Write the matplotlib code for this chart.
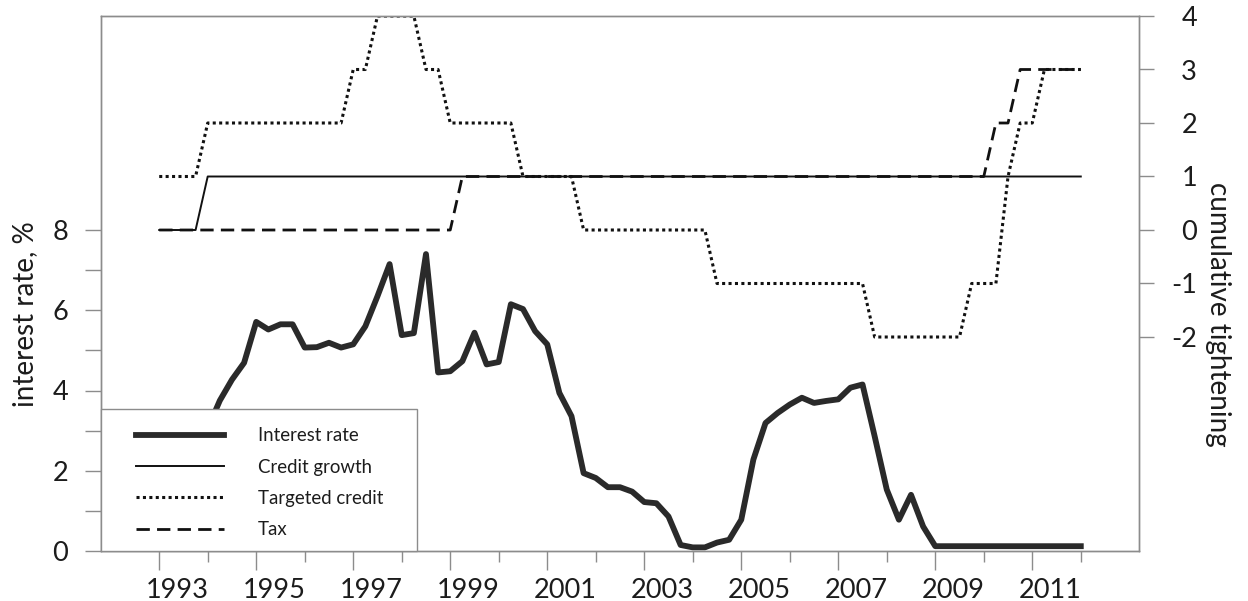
import numpy as np
import matplotlib
matplotlib.use('Agg')
import matplotlib.pyplot as plt
from matplotlib.patches import Rectangle
from matplotlib.transforms import ScaledTranslation

plt.rcParams['font.family'] = ['Lato', 'DejaVu Sans']

# quarterly observations, 1993Q1 .. 2012Q1
quarters = 1993 + np.arange(77) / 4.0

interest_rate = [
    3.0, 2.9, 2.8, 2.9,       # 1993
    3.05, 3.75, 4.27, 4.69,   # 1994
    5.71, 5.52, 5.65, 5.65,   # 1995
    5.07, 5.08, 5.19, 5.07,   # 1996
    5.15, 5.6, 6.35, 7.15,    # 1997
    5.38, 5.43, 7.4, 4.45,    # 1998
    4.48, 4.73, 5.44, 4.65,   # 1999
    4.71, 6.15, 6.03, 5.48,   # 2000
    5.15, 3.94, 3.36, 1.94,   # 2001
    1.82, 1.59, 1.59, 1.48,   # 2002
    1.22, 1.19, 0.86, 0.15,   # 2003
    0.09, 0.09, 0.21, 0.28,   # 2004
    0.78, 2.28, 3.19, 3.44,   # 2005
    3.65, 3.82, 3.69, 3.74,   # 2006
    3.78, 4.07, 4.15, 2.86,   # 2007
    1.53, 0.78, 1.4, 0.61,    # 2008
    0.12, 0.12, 0.12, 0.12,   # 2009
    0.12, 0.12, 0.12, 0.12,   # 2010
    0.12, 0.12, 0.12, 0.12,   # 2011
    0.12,                     # 2012
]
credit_growth = [
    0, 0, 0, 0,  1, 1, 1, 1,  1, 1, 1, 1,  1, 1, 1, 1,  1, 1, 1, 1,
    1, 1, 1, 1,  1, 1, 1, 1,  1, 1, 1, 1,  1, 1, 1, 1,  1, 1, 1, 1,
    1, 1, 1, 1,  1, 1, 1, 1,  1, 1, 1, 1,  1, 1, 1, 1,  1, 1, 1, 1,
    1, 1, 1, 1,  1, 1, 1, 1,  1, 1, 1, 1,  1, 1, 1, 1,  1,
]
targeted_credit = [
    1, 1, 1, 1,  2, 2, 2, 2,  2, 2, 2, 2,  2, 2, 2, 2,  3, 3, 4, 4,
    4, 4, 3, 3,  2, 2, 2, 2,  2, 2, 1, 1,  1, 1, 1, 0,  0, 0, 0, 0,
    0, 0, 0, 0,  0, 0, -1, -1,  -1, -1, -1, -1,  -1, -1, -1, -1,
    -1, -1, -1, -2,  -2, -2, -2, -2,  -2, -2, -2, -1,  -1, -1, 1, 2,
    2, 3, 3, 3,  3,
]
tax = [
    0, 0, 0, 0,  0, 0, 0, 0,  0, 0, 0, 0,  0, 0, 0, 0,  0, 0, 0, 0,
    0, 0, 0, 0,  0, 1, 1, 1,  1, 1, 1, 1,  1, 1, 1, 1,  1, 1, 1, 1,
    1, 1, 1, 1,  1, 1, 1, 1,  1, 1, 1, 1,  1, 1, 1, 1,  1, 1, 1, 1,
    1, 1, 1, 1,  1, 1, 1, 1,  1, 2, 2, 3,  3, 3, 3, 3,  3,
]

major_years = [1993, 1995, 1997, 1999, 2001, 2003, 2005, 2007, 2009, 2011]
minor_years = [1994, 1996, 1998, 2000, 2002, 2004, 2006, 2008, 2010, 2012]
left_ticks = [0, 1, 2, 3, 4, 5, 6, 7, 8]
left_labels = ['0', '', '2', '', '4', '', '6', '', '8']
right_ticks = [-2, -1, 0, 1, 2, 3, 4]

grey = '#8c8c8c'
ink = '#1c1c1c'
tick_fs = 19.5

fig = plt.figure(figsize=(12.48, 6.01), dpi=100)
ax = fig.add_axes([101 / 1248, 50 / 601, 1038 / 1248, 535 / 601])
ax2 = ax.twinx()

l1, = ax.plot(quarters, interest_rate, color='#2a2a2a', lw=4.2, label='Interest rate')
l2, = ax2.plot(quarters, credit_growth, color='#111111', lw=1.4, label='Credit growth')
l3, = ax2.plot(quarters, targeted_credit, color='#111111', lw=2.2,
               linestyle=(0, (1, 1.1)), label='Targeted credit')
l4, = ax2.plot(quarters, tax, color='#111111', lw=2.0,
               linestyle=(0, (4.8, 2.6)), label='Tax')

ax.set_xlim(1991.8, 2013.2)
ax.set_ylim(0, 40 / 3)
ax2.set_ylim(-6, 4)

ax.set_xticks(major_years)
ax.set_xticklabels([str(y) for y in major_years])
ax.set_xticks(minor_years, minor=True)
ax.set_yticks(left_ticks)
ax.set_yticklabels(left_labels)
ax2.set_yticks(right_ticks)
ax2.set_yticklabels([str(v) for v in right_ticks])

for a in (ax, ax2):
    for s in a.spines.values():
        s.set_color(grey)
        s.set_linewidth(1.0)

ax.tick_params(axis='y', direction='out', length=11.5, width=1, color=grey,
               pad=12, labelsize=tick_fs, labelcolor=ink)
ax.tick_params(axis='x', which='major', direction='out', length=13.7, width=1,
               color=grey, pad=6, labelsize=tick_fs, labelcolor=ink)
ax.tick_params(axis='x', which='minor', direction='out', length=8, width=1, color=grey)
ax2.tick_params(axis='y', direction='out', length=10.8, width=1, color=grey,
                pad=31, labelsize=tick_fs, labelcolor=ink)
for lbl in ax2.get_yticklabels():
    lbl.set_horizontalalignment('right')

# category-style labels sit a bit right of their tick
shift = ScaledTranslation(18 / 100, 0, fig.dpi_scale_trans)
for lbl in ax.get_xticklabels():
    lbl.set_transform(lbl.get_transform() + shift)

fig.text(25 / 1248, 1 - 314 / 601, 'interest rate, %', rotation=90,
         ha='center', va='center', fontsize=20, color=ink)
fig.text(1218 / 1248, 1 - 314 / 601, 'cumulative tightening', rotation=-90,
         ha='center', va='center', fontsize=20, color=ink)

# legend box, flush with the lower left corner
ax2.add_patch(Rectangle((0, 0), 315.7 / 1038, 142 / 535, transform=ax2.transAxes,
                        facecolor='white', edgecolor=grey, lw=1, zorder=10,
                        clip_on=False))
leg = ax2.legend(handles=[l1, l2, l3, l4], loc='upper left',
                 bbox_to_anchor=(26 / 1038, 133 / 535), frameon=False,
                 borderpad=0, handlelength=4.7, handletextpad=1.85,
                 labelspacing=0.77, fontsize=13.4)
leg.set_zorder(11)
for t in leg.get_texts():
    t.set_color(ink)

fig.savefig('out.png', dpi=100)
